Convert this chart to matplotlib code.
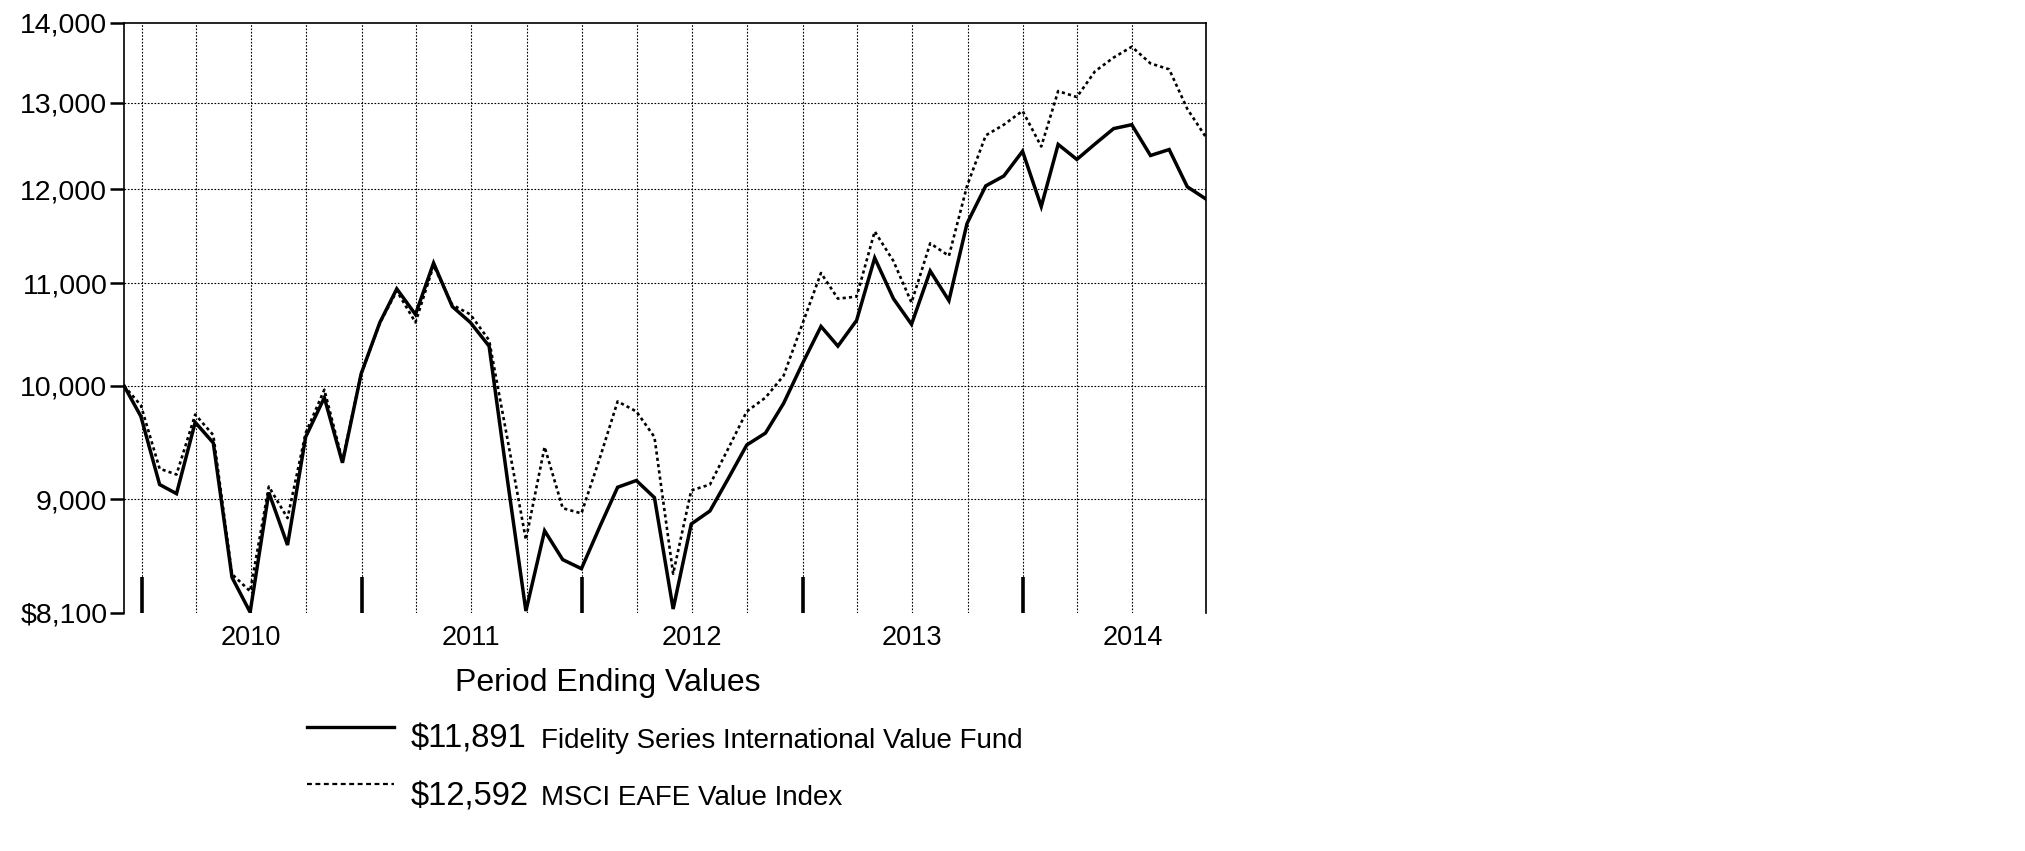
import calendar
from datetime import date

import matplotlib
matplotlib.use("Agg")
import matplotlib.pyplot as plt
import matplotlib.dates as mdates
from matplotlib.lines import Line2D
from matplotlib.transforms import blended_transform_factory

plt.rcParams['font.family'] = ['Liberation Sans', 'DejaVu Sans']

# --- data (hypothetical $10,000 investment) ---
start_date = date(2009, 12, 3)
end_date = date(2014, 10, 31)

fund_values = [
    10000, 9720,
    9125, 9048, 9667, 9484, 8372, 8106, 9058, 8627, 9536, 9891, 9311, 10112,
    10605, 10941, 10684, 11206, 10763, 10605, 10375, 9142, 8115, 8742, 8511, 8440,
    8781, 9102, 9159, 9015, 8130, 8797, 8904, 9182, 9466, 9571, 9838, 10205,
    10566, 10375, 10625, 11259, 10842, 10587, 11124, 10822, 11625, 12037, 12148, 12430,
    11809, 12509, 12336, 12514, 12694, 12740, 12381, 12450, 12027, 11891,
]
index_values = [
    10000, 9820,
    9260, 9210, 9737, 9553, 8397, 8265, 9108, 8845, 9571, 9964, 9330, 10112,
    10600, 10920, 10605, 11180, 10780, 10684, 10432, 9502, 8669, 9449, 8927, 8884,
    9360, 9856, 9765, 9536, 8400, 9075, 9125, 9442, 9765, 9891, 10094, 10587,
    11103, 10842, 10862, 11539, 11227, 10802, 11413, 11280, 12037, 12614, 12740, 12904,
    12485, 13143, 13071, 13386, 13559, 13695, 13485, 13411, 12928, 12592,
]
fund_label = "Fidelity Series International Value Fund"
index_label = "MSCI EAFE Value Index"
fund_end = "$11,891"
index_end = "$12,592"

y_ticks = [8100, 9000, 10000, 11000, 12000, 13000, 14000]
y_tick_labels = ["$8,100", "9,000", "10,000", "11,000", "12,000", "13,000", "14,000"]
years = [2010, 2011, 2012, 2013, 2014]

# month-end dates after the start date
dates = [start_date]
y, m = 2009, 12
while len(dates) < len(fund_values):
    dates.append(date(y, m, calendar.monthrange(y, m)[1]))
    m += 1
    if m > 12:
        m, y = 1, y + 1

W, H = 2025, 851
fig = plt.figure(figsize=(W / 100, H / 100), dpi=100)


def fx(px):
    return px / W


def fy(py):
    return 1 - py / H


ax_left, ax_right, ax_top, ax_bottom = 124, 1206, 23, 613
ax = fig.add_axes([fx(ax_left), fy(ax_bottom), fx(ax_right - ax_left), (ax_bottom - ax_top) / H])

ax.plot(dates, fund_values, color='black', lw=2.5, solid_joinstyle='miter')
ax.plot(dates, index_values, color='black', lw=1.9, linestyle=(0, (1.2, 1.2)))

ax.set_yscale('log')
ax.set_ylim(8100, 14000)
ax.set_xlim(start_date, end_date)
ax.yaxis.set_major_locator(matplotlib.ticker.FixedLocator(y_ticks))
ax.yaxis.set_minor_locator(matplotlib.ticker.NullLocator())
ax.set_yticklabels(y_tick_labels)
ax.tick_params(axis='y', direction='out', length=10, width=1.8, pad=2, labelsize=20.5)

# year boundary ticks drawn inside the plot
ax.xaxis.set_major_locator(matplotlib.ticker.FixedLocator(
    [mdates.date2num(date(yr, 1, 1)) for yr in years]))
ax.xaxis.set_minor_locator(matplotlib.ticker.NullLocator())
ax.tick_params(axis='x', direction='in', length=26, width=2.6, labelbottom=False)

# grid
grid_style = dict(color='black', lw=0.8, linestyle=(0, (1.5, 1.5)))
for v in y_ticks[1:-1]:
    ax.axhline(v, **grid_style, zorder=0)
for yr in years:
    for mo in (1, 4, 7, 10):
        d = date(yr, mo, 1)
        if start_date < d < date(2014, 10, 1):
            ax.axvline(d, **grid_style, zorder=0)

for side in ('left', 'top', 'right'):
    ax.spines[side].set_linewidth(1.2)
ax.spines['bottom'].set_visible(False)

trans = blended_transform_factory(ax.transData, fig.transFigure)
for yr in years:
    ax.text(date(yr, 7, 1), fy(638), str(yr), transform=trans,
            ha='center', va='center', fontsize=19.5)

fig.text(fx(608), fy(683), "Period Ending Values", ha='center', va='center', fontsize=23)

rows = [
    (727, 748, '-', 2.4, fund_end, fund_label),
    (784, 805, (0, (2.2, 1.6)), 1.6, index_end, index_label),
]
for line_y, base_y, ls, lw, amount, name in rows:
    fig.add_artist(Line2D([fx(307), fx(394)], [fy(line_y), fy(line_y)],
                          transform=fig.transFigure, color='black', lw=lw, linestyle=ls))
    fig.text(fx(411), fy(base_y), amount, ha='left', va='baseline', fontsize=23.5)
    fig.text(fx(541), fy(base_y), name, ha='left', va='baseline', fontsize=20)

fig.savefig('out.png', dpi=100, facecolor='white')
